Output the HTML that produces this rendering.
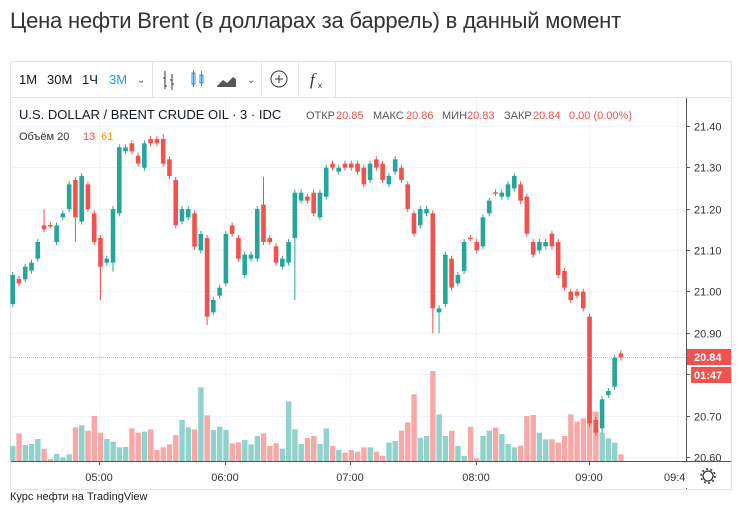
<!DOCTYPE html>
<html><head><meta charset="utf-8"><style>
body{margin:0;background:#fff;width:740px;height:509px;overflow:hidden;font-family:"Liberation Sans","DejaVu Sans",sans-serif;}
.t{position:absolute;left:10px;top:8px;font-size:22px;color:#333;white-space:nowrap;letter-spacing:-0.2px}
.f{position:absolute;left:10px;top:491px;font-size:11px;color:#222}
</style></head><body>
<div class="t">Цена нефти Brent (в долларах за баррель) в данный момент</div>
<svg id="s" width="740" height="509" style="position:absolute;left:0;top:0" xmlns="http://www.w3.org/2000/svg"></svg>
<div class="f">Курс нефти на TradingView</div>
<script>
const NS="http://www.w3.org/2000/svg";const s=document.getElementById('s');
function el(n,a,t){const e=document.createElementNS(NS,n);for(const k in a)e.setAttribute(k,a[k]);if(t!=null)e.textContent=t;s.appendChild(e);return e;}
el('rect',{x:10.5,y:61.5,width:721,height:428,fill:'#fff',stroke:'#e0e3eb'});
el('line',{x1:11,y1:97.5,x2:731,y2:97.5,stroke:'#e0e3eb'});
[152,261,298,335].forEach(x=>el('line',{x1:x+.5,y1:62,x2:x+.5,y2:97,stroke:'#e0e3eb'}));
const tb=[['1М',19,'#131722'],['30М',47,'#131722'],['1Ч',82,'#131722'],['3М',109,'#2196f3']];
tb.forEach(a=>el('text',{x:a[1],y:84,'font-size':13,fill:a[2]},a[0]));
el('text',{x:137,y:83,'font-size':10,fill:'#555'},'⌄');
el('path',{d:'M165 71v18M163 78h2M165 86h2M172 74v16M170 80h2M172 84h2',stroke:'#333',fill:'none'});
el('rect',{x:192,y:73,width:3,height:11,fill:'none',stroke:'#2196f3'});el('rect',{x:200,y:75,width:3,height:8,fill:'none',stroke:'#2196f3'});
el('path',{d:'M193.5 70v17M201.5 71v15',stroke:'#2196f3'});
el('path',{d:'M217 86l6-6 4 3 6-6 3 2v8h-19z',fill:'#555'});
el('text',{x:247,y:83,'font-size':10,fill:'#555'},'⌄');
el('circle',{cx:279,cy:79,r:8,fill:'none',stroke:'#333'});el('path',{d:'M275 79h8M279 75v8',stroke:'#333'});
el('text',{x:310,y:85,'font-size':17,'font-style':'italic',fill:'#333','font-family':'Liberation Serif'},'f');
el('text',{x:318,y:88,'font-size':8,fill:'#333'},'x');
const P=p=>126+(21.40-p)*413.75;
for(let i=0;i<=8;i++){const p=21.4-i*0.1;const y=Math.round(P(p))+.5;el('line',{x1:11,y1:y,x2:686,y2:y,stroke:'#f0f3fa'});
el('line',{x1:686,y1:y,x2:690,y2:y,stroke:'#555'});el('text',{x:694,y:y+4,'font-size':11,fill:'#333'},p.toFixed(2));}
[99,225,350,476,589,677].forEach(x=>el('line',{x1:x+.5,y1:98,x2:x+.5,y2:461,stroke:'#f0f3fa'}));
const C=[[732,645],[657,670],[658,620],[632,608],[596,546],[496,508],[495,496],[546,496],[472,460],[447,373],[360,472],[485,348],[373,447],[460,546],[534,620],[608,596],[608,447],[460,262],[274,262],[250,274],[287,311],[323,250],[237,250],[237,250],[237,311],[298,348],[360,496],[484,447],[472,447],[460,560],[571,522],[534,770],[757,720],[707,683],[670,522],[496,522],[534,596],[645,584],[596,584],[596,447],[434,546],[534,546],[559,608],[620,596],[608,546],[534,398],[422,398],[410,422],[398,460],[472,398],[410,323],[311,323],[335,323],[311,323],[311,323],[311,335],[323,373],[360,311],[298,323],[311,360],[373,348],[335,298],[323,360],[373,447],[460,521],[496,447],[460,447],[460,745],[757,745],[732,584],[596,683],[670,645],[633,546],[533,535],[546,571],[559,472],[460,422],[397,399],[410,398],[410,373],[385,348],[373,422],[410,521],[546,584],[571,546],[559,546],[521,559],[546,645],[633,683],[695,720],[695,707],[695,745],[770,1090],[1080,1118],[1105,1018],[1005,993],[980,893],[880,893]];
const W={14:720,31:795,45:720,67:820,68:820,92:1100,94:1120,10:545,5:448,40:350,24:222,16:635};
const V1=[1158,1120,1155,1152,1137,1166,1197,1182,1192,1183,1102,1096,1112,1068,1118,1137,1145,1162,1161,1105,1118,1115,1108,1170,1162,1153,1125,1080,1102,1108,982,1066,1110,1100,1110,1150,1147,1140,1153,1128,1120,1158,1150,1166,1024,1108,1152,1134,1128,1152,1105,1158,1170,1178,1170,1175,1162,1162,1175,1188,1148,1143,1112,1087,1003,1133,1128,933,1063,1128,1112,1158,1188,1100,1195,1128,1112,1103,1122,1152,1162,1157,1068,1065,1118,1138,1138,1148,1128,1063,1085,1075,1053,1055,1118,1135,1148,1183];
const Y=z=>z/3+60;
C.forEach((c,i)=>{const x=12.7+i*6.27;let o=Y(c[0]),cl=Y(c[1]);const up=cl<o||(c[0]==c[1]);
const col=up?'#26a69a':'#ef5350',vc=up?'#92d2cc':'#f7a9a7';
const vt=Y(V1[i]||1190);el('rect',{x:x-2.6,y:vt,width:5.4,height:461-vt,fill:vc});
let t=Math.min(o,cl),b=Math.max(o,cl);
let wt=t-3,wb=b+3;if(W[i]){const w=Y(W[i]);if(w>b)wb=w;else wt=w;}
el('line',{x1:x,y1:wt,x2:x,y2:wb,stroke:col,'stroke-width':1});
el('rect',{x:x-2.3,y:t,width:4.6,height:Math.max(b-t,1.5),fill:col});});
el('line',{x1:11,y1:357.5,x2:686,y2:357.5,stroke:'#f5a3a2','stroke-dasharray':'1 1'});
el('rect',{x:686,y:349,width:45,height:16,fill:'#ef5350'});el('text',{x:694,y:361,'font-size':11,fill:'#fff','font-weight':'bold'},'20.84');
el('rect',{x:691,y:367,width:40,height:16,fill:'#ef5350'});el('text',{x:694,y:379,'font-size':11,fill:'#fff','font-weight':'bold'},'01:47');
el('line',{x1:686.5,y1:98,x2:686.5,y2:489,stroke:'#555'});
el('line',{x1:11,y1:461.5,x2:731,y2:461.5,stroke:'#555'});
[[99,'05:00'],[225,'06:00'],[350,'07:00'],[476,'08:00'],[589,'09:00']].forEach(a=>{el('line',{x1:a[0]+.5,y1:461,x2:a[0]+.5,y2:465,stroke:'#555'});el('text',{x:a[0],y:481,'font-size':11,fill:'#333','text-anchor':'middle'},a[1]);});
el('text',{x:664,y:481,'font-size':11,fill:'#333'},'09:4');
el('rect',{x:686,y:462,width:45,height:26,fill:'#fff'});
el('circle',{cx:708,cy:476,r:5,fill:'none',stroke:'#333','stroke-width':1.3});
el('circle',{cx:708,cy:476,r:7,fill:'none',stroke:'#333','stroke-width':1.5,'stroke-dasharray':'2 2.4'});
el('text',{x:19,y:119,'font-size':13,fill:'#131722'},'U.S. DOLLAR / BRENT CRUDE OIL · 3 · IDC');
const lg=[['ОТКР',306,'#555'],['20.85',336,'#ef5350'],['МАКС',373,'#555'],['20.86',406,'#ef5350'],['МИН',442,'#555'],['20.83',467,'#ef5350'],['ЗАКР',504,'#555'],['20.84',533,'#ef5350'],['0.00 (0.00%)',569,'#ef5350']];
lg.forEach(a=>el('text',{x:a[1],y:119,'font-size':11,fill:a[2]},a[0]));
el('text',{x:19,y:140,'font-size':11,fill:'#333'},'Объём 20');el('text',{x:83,y:140,'font-size':11,fill:'#ef5350'},'13');el('text',{x:101,y:140,'font-size':11,fill:'#ff9800'},'61');
</script>
</body></html>
